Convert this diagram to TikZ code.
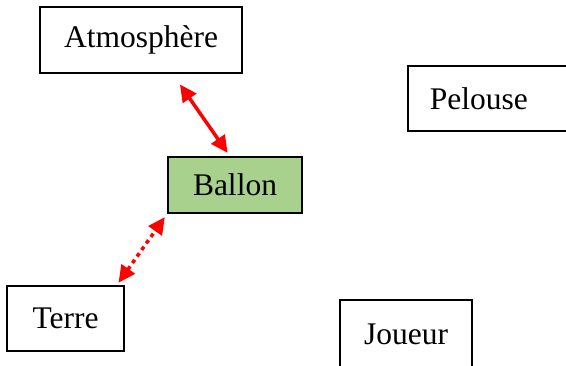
\documentclass[tikz,border=0pt]{standalone}
\usepackage{fontspec}
\setmainfont{Liberation Serif}
\usetikzlibrary{arrows.meta}

\definecolor{ballongreen}{HTML}{A9D18E}
\tikzset{
  boite/.style={draw,line width=1.6pt,inner sep=0pt,font=\fontsize{31.5}{36}\selectfont},
  lien/.style={red,line width=3.5pt,{Triangle[length=17pt,width=16pt]}-{Triangle[length=17pt,width=16pt]}}
}

\begin{document}
\begin{tikzpicture}[x=1pt,y=-1pt]
            \useasboundingbox (0,0) rectangle (566,365);

            \node [boite,minimum width=202pt,minimum height=66pt] (atm) at (141,40) {Atmosphère};
            \node [boite,fill=ballongreen,minimum width=134pt,minimum height=56pt] (ballon) at (235,185) {Ballon};
            \node [boite,minimum width=117pt,minimum height=65pt] (terre) at (65.5,318.5) {Terre};
            \node [boite,anchor=west,inner xsep=22pt,text width=140pt,align=left,minimum height=65pt] (pelouse) at (407,98.5) {Pelouse};
            \node [boite,minimum width=132pt,minimum height=68pt] (joueur) at (406,334) {Joueur};

            \draw [lien,shorten <=13pt,shorten >=4pt]
               (atm.-47) -- (ballon.100);
            \draw [lien,dash pattern=on 4pt off 4pt,shorten <=3pt,shorten >=4pt]
               (terre.33) -- (ballon.203);
         \end{tikzpicture}
\end{document}
